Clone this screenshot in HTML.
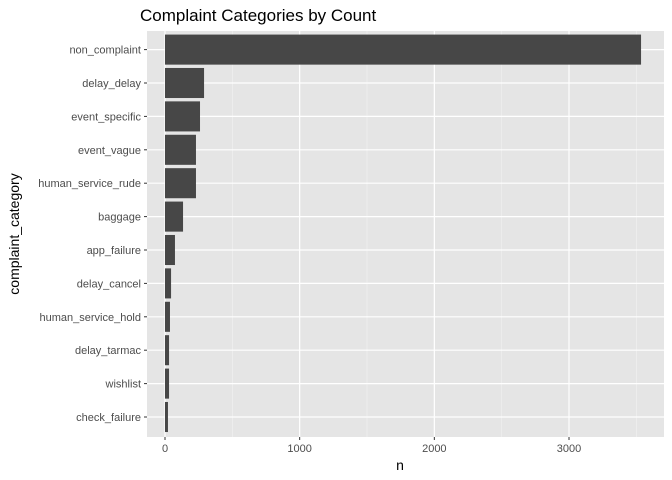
<!DOCTYPE html>
<html><head><meta charset="utf-8"><style>
body{margin:0;background:#fff;}
svg{display:block;font-family:"Liberation Sans",sans-serif;}
</style></head><body>
<svg id="chart" width="672" height="480">
<text x="140" y="21" font-size="17" fill="#000">Complaint Categories by Count</text>
<rect x="147" y="31" width="517" height="406" fill="#e5e5e5"/>
<g id="grid"></g><g id="bars"></g><g id="axes"></g>
<text x="400" y="470" font-size="14" text-anchor="middle" fill="#000">n</text>
<text transform="translate(19,234) rotate(-90)" font-size="14" text-anchor="middle" fill="#000">complaint_category</text>
</svg>
<script>
const categories=["non_complaint","delay_delay","event_specific","event_vague","human_service_rude","baggage","app_failure","delay_cancel","human_service_hold","delay_tarmac","wishlist","check_failure"];
const counts=[3535,290,260,230,230,134,74,45,37,30,30,22];
const xTicks=[0,1000,2000,3000];
const NS="http://www.w3.org/2000/svg";
const x0=165,pxPer=(569-165)/3000,y0=49.6,step=33.4;
const xs=v=>x0+v*pxPer, ys=i=>y0+i*step;
function mk(tag,attrs,parent){const e=document.createElementNS(NS,tag);for(const k in attrs)e.setAttribute(k,attrs[k]);document.getElementById(parent).appendChild(e);return e;}
for(let i=0;i<xTicks.length-1;i++){const m=(xTicks[i]+xTicks[i+1])/2;
 const g=mk("line",{x1:xs(m),x2:xs(m),y1:31,y2:437,stroke:"#f2f2f2","stroke-width":0.6},"grid");
 
 }
{const m=xTicks[xTicks.length-1]+500;if(xs(m)<664){const g=mk("line",{x1:xs(m),x2:xs(m),y1:31,y2:437,stroke:"#f2f2f2","stroke-width":0.6},"grid");
 
 }}
xTicks.forEach(t=>{const g=mk("line",{x1:xs(t),x2:xs(t),y1:31,y2:437,stroke:"#fff","stroke-width":1.2},"grid");
 
 
 const tk=mk("line",{x1:xs(t),x2:xs(t),y1:437,y2:440,stroke:"#333","stroke-width":1},"axes");
 
 
 const l=mk("text",{x:xs(t),y:452,"font-size":11,"text-anchor":"middle",fill:"#4d4d4d"},"axes");l.textContent=t;
 
 });
categories.forEach((c,i)=>{const y=ys(i);
 const g=mk("line",{x1:147,x2:664,y1:y,y2:y,stroke:"#fff","stroke-width":1.2},"grid");
 
 
 const b=mk("rect",{x:xs(0),y:y-step*0.45,width:xs(counts[i])-xs(0),height:step*0.9,fill:"#474747"},"bars");
 
 
 const tk=mk("line",{x1:144,x2:147,y1:y,y2:y,stroke:"#333","stroke-width":1},"axes");
 
 
 const l=mk("text",{x:141,y:y+4,"font-size":11,"text-anchor":"end",fill:"#4d4d4d"},"axes");l.textContent=c;
 
 });
</script>
</body></html>
